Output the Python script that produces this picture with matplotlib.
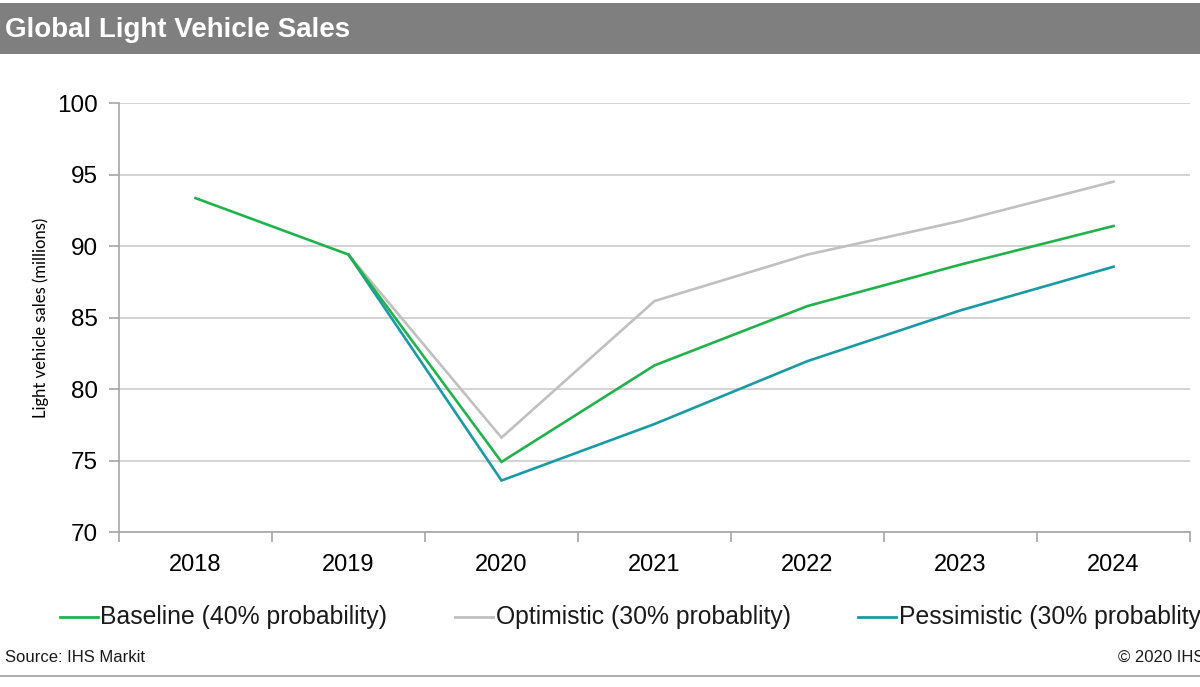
import matplotlib
matplotlib.use("Agg")
import matplotlib.pyplot as plt
from matplotlib.patches import Rectangle
from matplotlib.lines import Line2D

plt.rcParams['font.family'] = ['Liberation Sans', 'DejaVu Sans']

# data
years = ['2018', '2019', '2020', '2021', '2022', '2023', '2024']
baseline = [93.35, 89.4, 74.9, 81.65, 85.8, 88.7, 91.4]
optimistic = [None, 89.4, 76.6, 86.15, 89.4, 91.75, 94.5]
pessimistic = [None, 89.4, 73.6, 77.55, 81.95, 85.5, 88.55]

labels = ['Baseline (40% probability)', 'Optimistic (30% probablity)',
          'Pessimistic (30% probablity)']
colors = ['#22b24c', '#c0c0c0', '#1a9aa6']

fig = plt.figure(figsize=(12, 6.87), dpi=100)
W, H = 1200, 687

# title band
fig.patches.append(Rectangle((0, 1 - 54 / H), 1, 51 / H, transform=fig.transFigure,
                             facecolor='#7f7f7f', edgecolor='none', zorder=0))
fig.text(5 / W, 1 - 30 / H, 'Global Light Vehicle Sales', color='white',
         fontsize=20, fontweight='bold', va='center', ha='left')

ax = fig.add_axes([119 / W, 1 - 532 / H, (1190 - 119) / W, (532 - 103) / H])

x = list(range(len(years)))
series = [baseline, optimistic, pessimistic]
# grey first, then teal, green on top
order = [1, 2, 0]
for i in order:
    xs = [xi for xi, v in zip(x, series[i]) if v is not None]
    ys = [v for v in series[i] if v is not None]
    ax.plot(xs, ys, color=colors[i], lw=1.9, solid_joinstyle='miter', zorder=3)

ax.set_xlim(-0.5, len(years) - 0.5)
ax.set_ylim(70, 100)
ax.set_yticks(range(70, 101, 5))
ax.yaxis.grid(True, color='#d0d0d0', lw=1.3)
ax.set_axisbelow(True)

ax.set_xticks(x)
ax.set_xticklabels(years, fontsize=17)
ax.set_xticks([i - 0.5 for i in range(len(years) + 1)], minor=True)
ax.tick_params(axis='x', which='major', length=0, pad=16)
ax.tick_params(axis='x', which='minor', length=7, color='#a6a6a6', width=1.2)
ax.tick_params(axis='y', length=7, color='#a6a6a6', width=1.2, labelsize=17.5, pad=8)

for s in ['top', 'right']:
    ax.spines[s].set_visible(False)
for s in ['left', 'bottom']:
    ax.spines[s].set_color('#a6a6a6')
    ax.spines[s].set_linewidth(1.2)

ax.set_ylabel('Light vehicle sales (millions)', family=['Lato', 'DejaVu Sans'],
              fontsize=12, labelpad=6)

# legend along the bottom
leg_y = 1 - 617 / H
line_x = [(60, 98), (455, 493), (858, 896)]
text_x = [100, 496, 899]
for i in range(3):
    fig.add_artist(Line2D([line_x[i][0] / W, line_x[i][1] / W], [leg_y, leg_y],
                          transform=fig.transFigure, color=colors[i], lw=2))
    fig.text(text_x[i] / W, leg_y, labels[i], fontsize=17.8, va='center', ha='left',
             color='#1a1a1a')

fig.text(5 / W, 1 - 657 / H, 'Source: IHS Markit', fontsize=12, va='center',
         color='#1a1a1a')
fig.text(1118 / W, 1 - 657 / H, '\u00a9 2020 IHS Markit', fontsize=12, va='center',
         color='#1a1a1a')
fig.add_artist(Line2D([0, 1], [1 - 676 / H, 1 - 676 / H], transform=fig.transFigure,
                      color='#a0a0a0', lw=1.2))

fig.savefig('out.png', dpi=100)
